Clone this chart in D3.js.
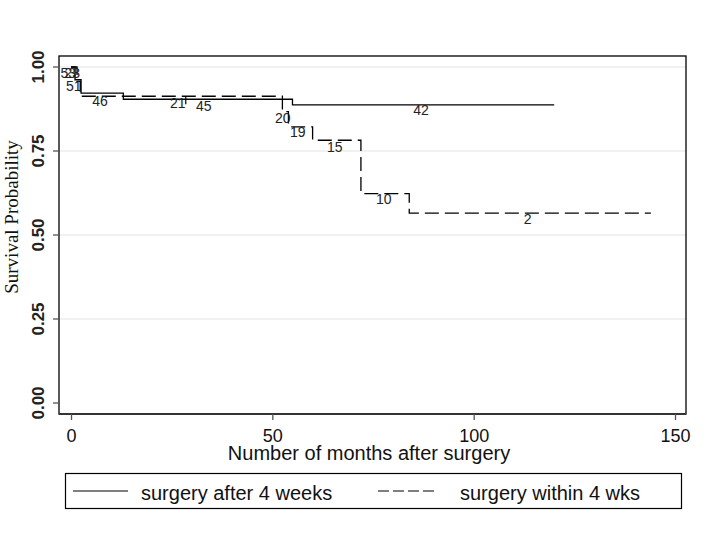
<!DOCTYPE html>
<html><head><meta charset="utf-8">
<script src="https://d3js.org/d3.v7.min.js"></script>
<style>body{margin:0;background:#fff}svg{display:block}</style>
</head><body>
<script>
// ---- data ----
const groupNames = ["surgery after 4 weeks", "surgery within 4 wks"];
const afterTimes = [0, 1, 2.5, 13, 55, 120];
const afterSurv  = [1, 0.962, 0.922, 0.904, 0.887, 0.887];
const withinTimes = [0, 1.5, 2.3, 52.5, 54, 60, 72, 84, 144];
const withinSurv  = [1, 0.957, 0.913, 0.867, 0.822, 0.782, 0.623, 0.565, 0.565];
const censorTimes = [28.5];
const censorSurv  = [0.904];
const riskLabels = ["53", "23", "51", "46", "21", "45", "20", "19", "15", "10", "2", "42"];
const riskTimes  = [-0.7, 0.3, 0.7, 7.2, 26.5, 33, 52.6, 56.3, 65.5, 77.7, 113.4, 86.9];
const riskSurv   = [0.982, 0.982, 0.944, 0.899, 0.893, 0.884, 0.848, 0.807, 0.762, 0.607, 0.548, 0.872];
const xTicks = [0, 50, 100, 150];
const yTicks = [0, 0.25, 0.5, 0.75, 1];
const yGrid = [0.25, 0.5, 0.75, 1];

const W = 720, H = 540;
const frame = {left: 59, top: 56, right: 686, bottom: 414};
const x = d3.scaleLinear().domain([0, 150]).range([71, 675]);
const y = d3.scaleLinear().domain([0, 1]).range([403, 67]);

const svg = d3.select("body").append("svg").attr("width", W).attr("height", H);
svg.append("rect").attr("width", W).attr("height", H).attr("fill", "#fff");

// grid
svg.append("g").selectAll("line").data(yGrid).join("line")
  .attr("x1", frame.left).attr("x2", frame.right)
  .attr("y1", d => y(d)).attr("y2", d => y(d))
  .attr("stroke", "#e4e4e4").attr("stroke-width", 1.2);

// frame
svg.append("rect").attr("x", frame.left).attr("y", frame.top)
  .attr("width", frame.right - frame.left).attr("height", frame.bottom - frame.top)
  .attr("fill", "none").attr("stroke", "#000").attr("stroke-width", 1.3);
svg.append("line").attr("x1", frame.left).attr("x2", frame.right)
  .attr("y1", frame.bottom).attr("y2", frame.bottom)
  .attr("stroke", "#333").attr("stroke-width", 2.2);

// y axis
const yAxis = d3.axisLeft(y).tickValues(yTicks).tickFormat(d3.format(".2f")).tickSize(6).tickPadding(9);
const gy = svg.append("g").attr("transform", `translate(${frame.left},0)`).call(yAxis);
gy.select(".domain").remove();
gy.selectAll(".tick line").attr("stroke", "#555").attr("stroke-width", 1.3);
gy.selectAll(".tick text")
  .attr("transform", null)
  .attr("x", null).attr("dy", null)
  .each(function(d){
    d3.select(this).attr("transform", `translate(44,${y(d)}) rotate(-90)`)
      .attr("x", 0).attr("y", 0).attr("text-anchor", "middle");
  })
  .attr("font-family", "Liberation Sans, Arial, sans-serif")
  .attr("font-weight", "bold").attr("font-size", 17).attr("fill", "#222");
gy.attr("font-family", null).attr("font-size", null);
gy.selectAll(".tick").each(function(d){
  const t = d3.select(this);
  t.attr("transform", null);
  t.select("line").attr("transform", `translate(0,${y(d)})`);
  t.select("text").attr("transform", `translate(${44 - frame.left},${y(d)}) rotate(-90)`);
});

// x axis
const xAxis = d3.axisBottom(x).tickValues(xTicks).tickFormat(d3.format("d")).tickSize(6).tickPadding(14);
const gx = svg.append("g").attr("transform", `translate(0,${frame.bottom})`).call(xAxis);
gx.select(".domain").remove();
gx.selectAll(".tick line").attr("stroke", "#555").attr("stroke-width", 1.3);
gx.selectAll(".tick text").attr("font-family", "Liberation Sans, Arial, sans-serif")
  .attr("font-size", 18).attr("fill", "#111").attr("dy", "0.71em").attr("y", 15);

// axis titles
svg.append("text").attr("x", 369).attr("y", 460).attr("text-anchor", "middle")
  .attr("font-family", "Liberation Sans, Arial, sans-serif").attr("font-size", 20).attr("fill", "#111")
  .text("Number of months after surgery");
svg.append("text").attr("transform", "translate(18,217) rotate(-90)").attr("text-anchor", "middle")
  .attr("font-family", "Liberation Serif, Times New Roman, serif").attr("font-size", 19).attr("fill", "#111")
  .text("Survival Probability");

// curves
const line = d3.line().x(d => x(d[0])).y(d => y(d[1])).curve(d3.curveStepAfter);
svg.append("path").datum(d3.zip(afterTimes, afterSurv)).attr("d", line)
  .attr("fill", "none").attr("stroke", "#000").attr("stroke-width", 1.3);
svg.append("path").datum(d3.zip(withinTimes, withinSurv)).attr("d", line)
  .attr("fill", "none").attr("stroke", "#000").attr("stroke-width", 1.3)
  .attr("stroke-dasharray", "14,6");

// censor ticks
svg.append("g").selectAll("line").data(d3.zip(censorTimes, censorSurv)).join("line")
  .attr("x1", d => x(d[0])).attr("x2", d => x(d[0]))
  .attr("y1", d => y(d[1]) - 3).attr("y2", d => y(d[1]) + 5)
  .attr("stroke", "#000").attr("stroke-width", 1.2);

// number at risk labels
svg.append("g").selectAll("text").data(d3.zip(riskLabels, riskTimes, riskSurv)).join("text")
  .attr("x", d => x(d[1])).attr("y", d => y(d[2]) + 5)
  .attr("text-anchor", "middle")
  .attr("font-family", "Liberation Sans, Arial, sans-serif").attr("font-size", 14).attr("fill", "#222")
  .text(d => d[0]);

// legend
const lg = svg.append("g");
lg.append("rect").attr("x", 65.5).attr("y", 473.5).attr("width", 616).attr("height", 35)
  .attr("fill", "#fff").attr("stroke", "#000").attr("stroke-width", 1.2);
const legendItems = [
  {name: groupNames[0], x0: 73, x1: 128, tx: 141, dash: null},
  {name: groupNames[1], x0: 378, x1: 435, tx: 460, dash: "11,4"}
];
legendItems.forEach(it => {
  lg.append("line").attr("x1", it.x0).attr("x2", it.x1).attr("y1", 491).attr("y2", 491)
    .attr("stroke", "#000").attr("stroke-width", 1.2).attr("stroke-dasharray", it.dash);
  lg.append("text").attr("x", it.tx).attr("y", 500)
    .attr("font-family", "Liberation Sans, Arial, sans-serif").attr("font-size", 20).attr("fill", "#111")
    .text(it.name);
});
</script>
</body></html>
